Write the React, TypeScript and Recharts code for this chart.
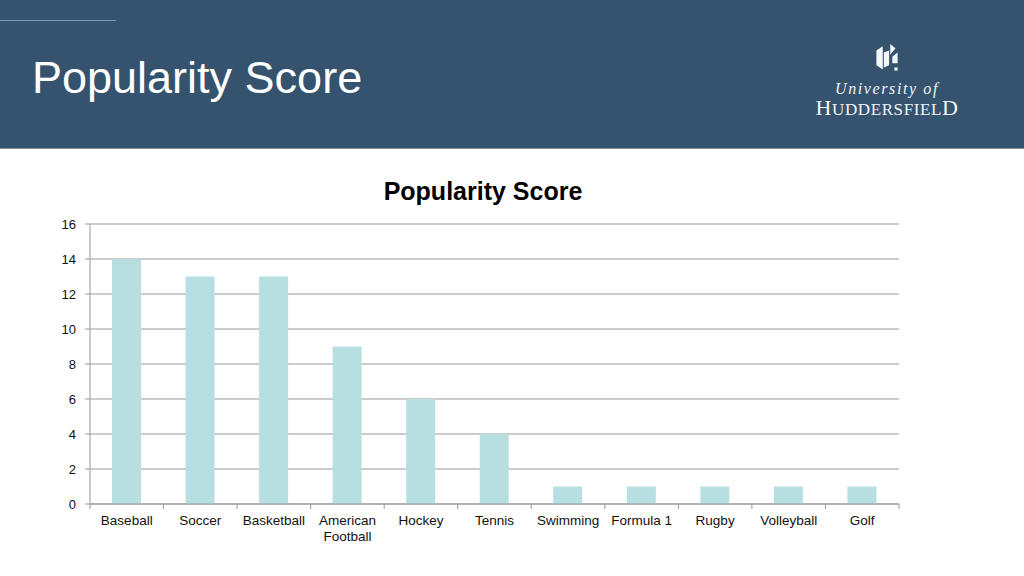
import React from "react";
import { BarChart, Bar, XAxis, YAxis, CartesianGrid, Text } from "recharts";

const categories = ["Baseball", "Soccer", "Basketball", "American Football", "Hockey", "Tennis", "Swimming", "Formula 1", "Rugby", "Volleyball", "Golf"];
const scores = [14, 13, 13, 9, 6, 4, 1, 1, 1, 1, 1];
const yTicks = [0, 2, 4, 6, 8, 10, 12, 14, 16];

const data = categories.map((name, i) => ({ name, score: scores[i] }));

const FONT = "'Liberation Sans', Arial, sans-serif";

const XTick = (props: any) => {
  const { x, y, payload, index, visibleTicksCount } = props;
  const off = payload.offset || 0;
  return (
    <g>
      <line x1={x - off} y1={y - 8} x2={x - off} y2={y - 3} stroke="#999" />
      {index === visibleTicksCount - 1 && (
        <line x1={x + off} y1={y - 8} x2={x + off} y2={y - 3} stroke="#999" />
      )}
      <Text x={x} y={y + 3} width={72} lineHeight={16} textAnchor="middle" verticalAnchor="start" fontSize={13.5} fill="#111" fontFamily={FONT}>
        {payload.value}
      </Text>
    </g>
  );
};

const Logo = () => (
  <div style={{ position: "absolute", left: 797, top: 42, width: 180, textAlign: "center", color: "#f2f4f6" }}>
    <svg width="30" height="36" viewBox="0 0 28 34" style={{ display: "block", margin: "0 auto" }}>
      <polygon points="4,8 10,4 10,26 4,22" fill="#f4f6f8" />
      <polygon points="11,10 16,8 16,22 11,24" fill="#f4f6f8" />
      <polygon points="17,2 22,6 17,12" fill="#f4f6f8" />
      <polygon points="19,14 24,10 24,20 19,20" fill="#f4f6f8" />
      <polygon points="21,24 24,24 24,27 21,27" fill="#f4f6f8" />
    </svg>
    <div style={{ fontFamily: "'Liberation Serif', serif", fontStyle: "italic", fontSize: 16, letterSpacing: 1.6, lineHeight: "16px", marginTop: 3 }}>University of</div>
    <div style={{ fontFamily: "'Liberation Serif', serif", fontSize: 22, letterSpacing: 0.6, lineHeight: "22px" }}>
      H<span style={{ fontSize: 17 }}>UDDERSFIEL</span>D
    </div>
  </div>
);

export default function App() {
  return (
    <div style={{ position: "fixed", left: 0, top: 0, width: 1024, height: 576, background: "#fff", overflow: "hidden" }}>
      <div style={{ position: "absolute", left: 0, top: 0, width: 1024, height: 148, background: "#35536f", borderBottom: "1px solid #8a8f96" }} />
      <div style={{ position: "absolute", left: 0, top: 20, width: 116, height: 1, background: "#7f97b0" }} />
      <div style={{ position: "absolute", left: 32, top: 52, fontFamily: FONT, fontSize: 45, color: "#fff", lineHeight: "52px", whiteSpace: "nowrap" }}>
        Popularity Score
      </div>
      <Logo />
      <div style={{ position: "absolute", left: 0, top: 176, width: 966, textAlign: "center", fontFamily: FONT, fontWeight: "bold", fontSize: 25, lineHeight: "30px", color: "#000" }}>
        Popularity Score
      </div>
      <div style={{ position: "absolute", left: 0, top: 0 }}>
        <BarChart width={1024} height={576} data={data} margin={{ top: 224, right: 125, bottom: 32, left: 0 }} barSize={29}>
          <CartesianGrid vertical={false} stroke="#999" strokeWidth={1} />
          <XAxis dataKey="name" interval={0} stroke="#999" tickLine={false} height={40} tick={<XTick />} />
          <YAxis domain={[0, 16]} ticks={yTicks} width={90} stroke="#999" tickSize={5} tickMargin={9} tick={{ fontSize: 13, fill: "#111", fontFamily: FONT }} />
          <Bar dataKey="score" fill="#b7dfe1" isAnimationActive={false} />
        </BarChart>
      </div>
    </div>
  );
}
